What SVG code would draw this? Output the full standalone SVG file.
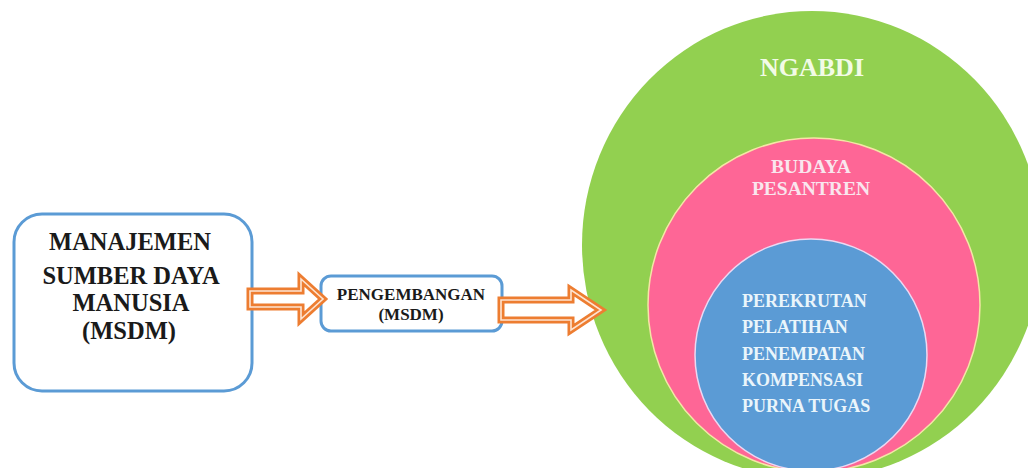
<svg xmlns="http://www.w3.org/2000/svg" width="1028" height="468" viewBox="0 0 1028 468">
<style>
.box{fill:#fff;stroke:#5b9bd5;stroke-width:3}
.t{font-family:"Liberation Serif","Times New Roman",serif;font-weight:bold}
.dark{fill:#1a1a1a}
.arrOut{fill:#fff;stroke:#ed7d31;stroke-width:7;stroke-linejoin:miter}
.arrIn{fill:none;stroke:#fde4d2;stroke-width:1.6;stroke-linejoin:miter}
</style>
<rect width="1028" height="468" fill="#fff"/>
<g id="ngabdi">
<ellipse cx="812" cy="245" rx="230" ry="234" fill="#92d050"/>
<text class="t" x="812" y="76" font-size="26" text-anchor="middle" fill="#f2fbe6">NGABDI</text>
</g>
<g id="budaya-pesantren">
<ellipse cx="814" cy="305" rx="166" ry="167" fill="#fe6696" stroke="#f4e6a6" stroke-width="1.5"/>
<text class="t" x="811" y="173" font-size="19.5" text-anchor="middle" fill="#f9e6ee">BUDAYA</text>
<text class="t" x="811" y="195" font-size="19.5" text-anchor="middle" fill="#f9e6ee">PESANTREN</text>
</g>
<g id="fungsi-msdm">
<ellipse cx="811" cy="355" rx="116" ry="116" fill="#5b9bd5" stroke="#ecd8f2" stroke-width="1.5"/>
<g class="t" font-size="18" fill="#eaf5fb">
<text x="742" y="307">PEREKRUTAN</text>
<text x="742" y="333">PELATIHAN</text>
<text x="742" y="360">PENEMPATAN</text>
<text x="742" y="386">KOMPENSASI</text>
<text x="742" y="412">PURNA TUGAS</text>
</g>
</g>
<g id="msdm">
<rect class="box" x="14" y="214" width="238" height="177" rx="28"/>
<g class="t dark" font-size="24.5" text-anchor="middle">
<text x="130" y="250">MANAJEMEN</text>
<text x="131" y="284">SUMBER DAYA</text>
<text x="131" y="311">MANUSIA</text>
<text x="129" y="339">(MSDM)</text>
</g>
</g>
<g id="pengembangan">
<rect class="box" x="321" y="276" width="181" height="55" rx="10"/>
<g class="t dark" font-size="17" text-anchor="middle">
<text x="411" y="300">PENGEMBANGAN</text>
<text x="411" y="320">(MSDM)</text>
</g>
</g>
<g id="connectors">
<path class="arrOut" d="M250,291 H301 V279 L323,299 L301,319 V307 H250 Z"/>
<path class="arrIn" d="M250,291 H301 V279 L323,299 L301,319 V307 H250 Z"/>
<path class="arrOut" d="M501,300 H571 V290 L601,310 L571,330 V320 H501 Z"/>
<path class="arrIn" d="M501,300 H571 V290 L601,310 L571,330 V320 H501 Z"/>
</g>
</svg>
